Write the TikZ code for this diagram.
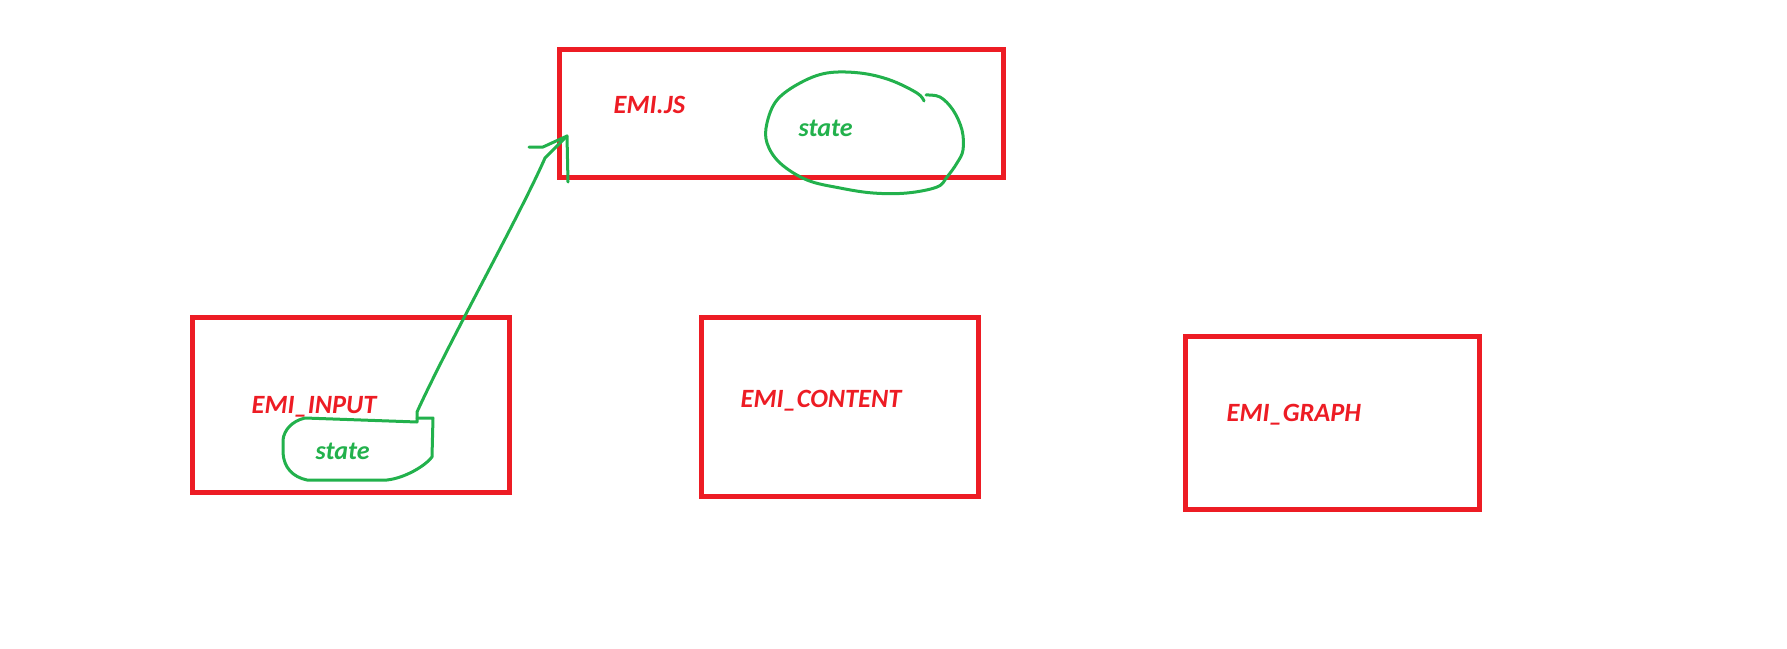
\documentclass[tikz,border=0pt]{standalone}
\usepackage{fontspec}
\setmainfont{Carlito}
\definecolor{pred}{HTML}{ED1C24}
\definecolor{pgreen}{HTML}{22B14C}
\tikzset{
  redbox/.style={draw=pred, line width=0.05cm, inner sep=0pt, outer sep=0pt},
  redlabel/.style={text=pred, font=\fontsize{7.5pt}{9pt}\selectfont\bfseries\itshape, inner sep=0pt, anchor=base west},
  greenlabel/.style={text=pgreen, font=\fontsize{7.4pt}{9pt}\selectfont\bfseries\itshape, inner sep=0pt, anchor=base west},
  pen/.style={draw=pgreen, line width=0.03cm, line cap=round, line join=round},
}
\begin{document}
\begin{tikzpicture}[x=0.01cm, y=-0.01cm]
\useasboundingbox (0,0) rectangle (1787,648);
% boxes
\node[redbox, minimum width=4.43cm, minimum height=1.27cm] (js) at (781.5,113.5) {};
\node[redbox, minimum width=3.16cm, minimum height=1.74cm] (input) at (351,405) {};
\node[redbox, minimum width=2.76cm, minimum height=1.78cm] (content) at (840,407) {};
\node[redbox, minimum width=2.93cm, minimum height=1.72cm] (graph) at (1332.5,423) {};
% labels
\node[redlabel] (jslbl) at (613,113) {EMI.JS};
\node[redlabel] (inputlbl) at (251,413) {EMI\_INPUT};
\node[redlabel] (contentlbl) at (740,407) {EMI\_CONTENT};
\node[redlabel] (graphlbl) at (1226,421) {EMI\_GRAPH};
\node[greenlabel] (jsstate) at (798,136) {state};
\node[greenlabel] (inputstate) at (315,459) {state};
% freehand loop around state in EMI.JS
\draw[pen] plot[smooth, tension=0.6] coordinates {(926,95) (940,97) (953,110) (962,130) (963,150) (957,163) (947,177) (937,187) (907,193) (873,193) (840,188) (807,180) (780,163) (767,143) (767,123) (777,100) (800,83) (827,73) (860,73) (890,80) (917,93) (924,101)};
% freehand blob around state in EMI_INPUT
\coordinate (blobtop) at (417,418);
\draw[pen] (blobtop) -- (433,418) -- (432,457) .. controls (425,466) and (405,478) .. (387,480) -- (307,480) .. controls (293,477) and (284,468) .. (283,453) -- (283,440) .. controls (284,430) and (292,421) .. (305,418) -- (417,422) -- (blobtop);
% connector
\coordinate (arrstart) at (417,412);
\coordinate (arrtip) at (567,136);
\coordinate (headleft) at (529,147);
\coordinate (headdown) at (568,182);
\draw[pen] (blobtop) -- (arrstart) .. controls (450,340) and (520,215) .. (545,158) -- (arrtip);
\draw[pen] (headleft) -- (543,147) -- (arrtip) -- (headdown);
\end{tikzpicture}
\end{document}
